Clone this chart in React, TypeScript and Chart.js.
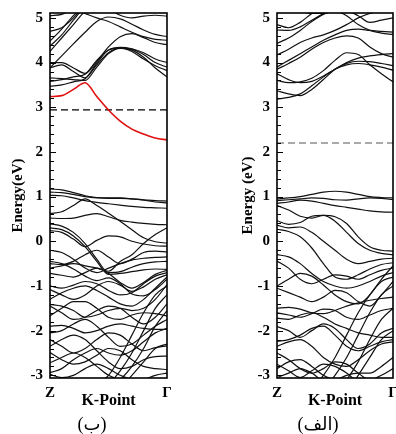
import React, { useEffect, useRef } from "react";
import { Chart, registerables } from "chart.js";
Chart.register(...registerables);

// k-path sample positions from Z (0) to Γ (1)
const K = [0, 0.1, 0.2, 0.3, 0.4, 0.5, 0.6, 0.7, 0.8, 0.9, 1.0];
const yTickValues = [-3, -2, -1, 0, 1, 2, 3, 4, 5];
const xTickLabels = ["Z", "Γ"];
const xTitle = "K-Point";
const yTitleLeft = "Energy(eV)";
const yTitleRight = "Energy (eV)";
const captionLeft = "(ب)";
const captionRight = "(الف)";
const fermiLeft = 2.94;
const fermiRight = 2.2;

// left panel (ب): red impurity band
const leftRedBand = [3.24, 3.26, 3.4, 3.55, 3.24, 2.94, 2.69, 2.51, 2.4, 2.31, 2.27];

// left panel conduction bands
const leftConduction = [
  [3.88, 3.95, 3.8, 3.66, 3.95, 4.22, 4.33, 4.28, 4.12, 3.88, 3.68],
  [3.58, 3.62, 3.68, 3.74, 4.05, 4.28, 4.34, 4.31, 4.22, 4.08, 4.0],
  [3.47, 3.5, 3.57, 3.64, 3.98, 4.28, 4.33, 4.25, 4.08, 3.93, 3.82],
  [3.66, 3.64, 3.62, 3.6, 3.9, 4.2, 4.32, 4.3, 4.18, 4.0, 3.9],
  [4.0, 4.0, 3.88, 3.76, 4.02, 4.35, 4.58, 4.65, 4.56, 4.45, 4.4],
  [3.88, 4.15, 4.42, 4.68, 4.92, 5.02, 4.98, 4.86, 4.73, 4.63, 4.58],
  [4.25, 4.55, 4.85, 5.15, 5.3, 5.2, 5.06, 5.0, 5.04, 5.06, 5.04],
  [4.48, 4.75, 5.05, 5.3, 5.4, 5.4, 5.35, 5.3, 5.25, 5.2, 5.2],
  [4.7, 4.78, 5.0, 5.3, 5.5, 5.5, 5.5, 5.5, 5.5, 5.5, 5.5],
  [4.37, 4.62, 4.95, 5.25, 5.4, 5.5, 5.5, 5.5, 5.5, 5.5, 5.5],
  [5.4, 5.3, 5.2, 5.1, 5.0, 4.92, 4.8, 4.68, 4.58, 4.52, 4.5],
  [5.05, 5.08, 5.2, 5.3, 5.4, 5.5, 5.5, 5.5, 5.5, 5.5, 5.5],
];

// left panel valence bands
const leftValence = [
  [1.17, 1.15, 1.09, 1.02, 0.98, 0.97, 0.97, 0.95, 0.92, 0.88, 0.86],
  [1.1, 1.09, 1.05, 1.0, 0.97, 0.96, 0.96, 0.95, 0.93, 0.91, 0.9],
  [1.03, 1.02, 0.97, 0.91, 0.87, 0.84, 0.81, 0.78, 0.76, 0.75, 0.74],
  [0.62, 0.66, 0.8, 0.95, 0.8, 0.63, 0.45, 0.26, 0.08, -0.01, -0.04],
  [0.52, 0.51, 0.52, 0.58, 0.62, 0.55, 0.47, 0.43, 0.4, 0.38, 0.37],
  [0.39, 0.34, 0.2, -0.05, -0.4, -0.7, -0.68, -0.58, -0.5, -0.46, -0.45],
  [0.3, 0.26, 0.12, -0.12, -0.45, -0.74, -0.72, -0.68, -0.64, -0.62, -0.63],
  [0.24, 0.2, 0.05, -0.12, 0.02, 0.12, 0.1, 0.0, -0.06, -0.1, -0.11],
  [-0.6, -0.55, -0.5, -0.55, -0.6, -0.67, -0.45, -0.3, -0.05, 0.15, 0.3],
  [-0.5, -0.52, -0.45, -0.3, -0.2, -0.35, -0.5, -0.4, -0.25, -0.22, -0.24],
  [-0.2, -0.25, -0.4, -0.6, -0.7, -0.6, -0.5, -0.42, -0.38, -0.36, -0.35],
  [-0.45, -0.5, -0.62, -0.78, -0.88, -0.82, -0.95, -1.18, -1.22, -1.08, -0.85],
  [-0.72, -0.76, -0.8, -0.7, -0.6, -0.72, -0.92, -1.05, -0.92, -0.74, -0.65],
  [-1.0, -1.05, -0.98, -0.9, -0.95, -1.1, -1.2, -1.15, -0.95, -0.78, -0.7],
  [-1.08, -1.2, -1.3, -1.2, -1.0, -0.9, -0.98, -1.12, -1.02, -0.85, -0.75],
  [-1.3, -1.15, -1.05, -1.0, -1.1, -1.25, -1.4, -1.45, -1.3, -1.05, -0.8],
  [-1.41, -1.45, -1.55, -1.7, -1.65, -1.55, -1.5, -1.55, -1.5, -1.3, -0.97],
  [-1.45, -1.6, -1.75, -1.7, -1.55, -1.45, -1.5, -1.7, -1.85, -1.7, -1.4],
  [-1.67, -1.5, -1.35, -1.35, -1.5, -1.7, -1.75, -1.65, -1.6, -1.62, -1.67],
  [-1.9, -1.88, -1.95, -2.05, -2.0, -1.9, -1.85, -1.9, -1.95, -1.97, -1.97],
  [-2.05, -2.0, -1.85, -1.75, -1.9, -2.15, -2.35, -2.3, -2.1, -1.9, -1.75],
  [-2.2, -2.35, -2.5, -2.4, -2.2, -2.05, -2.1, -2.3, -2.45, -2.38, -2.34],
  [-2.35, -2.2, -2.1, -2.2, -2.45, -2.7, -2.85, -2.8, -2.65, -2.58, -2.57],
  [-2.49, -2.65, -2.75, -2.7, -2.55, -2.4, -2.45, -2.65, -2.8, -2.85, -2.87],
  [-2.72, -2.6, -2.5, -2.6, -2.8, -3.0, -3.1, -3.15, -3.1, -3.0, -2.95],
  [-2.94, -2.85, -2.65, -2.5, -2.4, -2.5, -2.55, -2.45, -2.25, -2.05, -1.95],
  [-2.98, -3.05, -3.0, -2.85, -2.75, -2.85, -3.0, -3.1, -3.2, -3.2, -3.2],
  [-3.5, -3.5, -3.5, -3.4, -3.2, -3.0, -2.6, -2.1, -1.6, -1.2, -1.0],
  [-3.6, -3.6, -3.6, -3.5, -3.4, -3.2, -2.9, -2.5, -2.0, -1.5, -1.2],
  [-3.8, -3.8, -3.7, -3.6, -3.5, -3.3, -3.1, -2.8, -2.4, -1.9, -1.55],
  [-3.9, -3.9, -3.8, -3.8, -3.7, -3.5, -3.3, -3.0, -2.7, -2.4, -2.3],
];

// right panel (الف) conduction bands
const rightConduction = [
  [3.18, 3.22, 3.3, 3.48, 3.68, 3.85, 3.95, 3.98, 3.95, 3.9, 3.83],
  [3.37, 3.3, 3.26, 3.4, 3.62, 3.85, 3.98, 4.03, 4.02, 3.98, 3.93],
  [3.6, 3.55, 3.57, 3.65, 3.82, 4.05, 4.22, 4.18, 3.95, 3.75, 3.57],
  [3.75, 3.62, 3.55, 3.58, 3.7, 3.85, 4.0, 4.1, 4.15, 4.18, 4.2],
  [3.9, 4.05, 4.2, 4.35, 4.5, 4.62, 4.72, 4.75, 4.72, 4.7, 4.68],
  [3.85, 3.98, 4.12, 4.3, 4.45, 4.55, 4.6, 4.55, 4.35, 4.2, 4.12],
  [4.17, 4.3, 4.45, 4.55, 4.62, 4.72, 4.85, 5.0, 5.1, 5.15, 5.15],
  [4.43, 4.55, 4.72, 4.92, 5.08, 5.15, 5.05, 4.85, 4.72, 4.66, 4.63],
  [4.73, 4.72, 4.8, 4.95, 5.1, 5.25, 5.35, 5.4, 5.4, 5.4, 5.4],
  [4.85, 4.78, 4.9, 5.1, 5.25, 5.35, 5.4, 5.4, 5.4, 5.4, 5.4],
  [5.2, 5.2, 5.15, 5.1, 5.1, 5.15, 5.15, 5.05, 4.9, 4.95, 5.0],
];

// right panel valence bands
const rightValence = [
  [0.95, 0.97, 1.0, 1.05, 1.1, 1.12, 1.1, 1.05, 1.0, 0.98, 0.97],
  [0.91, 0.93, 0.95, 0.97, 0.96, 0.93, 0.92, 0.95, 0.97, 0.96, 0.93],
  [0.85, 0.88, 0.92, 0.9, 0.85, 0.8, 0.76, 0.72, 0.68, 0.66, 0.65],
  [0.8, 0.7, 0.56, 0.52, 0.58, 0.55, 0.4, 0.1, -0.12, -0.2, -0.22],
  [0.46, 0.38, 0.42, 0.56, 0.58, 0.45, 0.2, -0.05, -0.2, -0.27, -0.3],
  [0.36, 0.3, 0.32, 0.2, 0.0, -0.2, -0.4, -0.5, -0.45, -0.4, -0.38],
  [0.27, 0.22, 0.1, -0.15, -0.5, -0.8, -0.85, -0.75, -0.62, -0.52, -0.48],
  [-0.44, -0.6, -0.85, -0.95, -0.85, -0.75, -0.78, -0.85, -0.75, -0.65, -0.6],
  [-1.0, -0.85, -0.72, -0.78, -0.98, -1.2, -1.35, -1.4, -1.2, -0.85, -0.55],
  [-0.3, -0.35, -0.5, -0.72, -0.9, -1.0, -1.05, -1.0, -0.9, -0.78, -0.7],
  [-1.05, -1.15, -1.25, -1.35, -1.25, -1.1, -1.15, -1.35, -1.45, -1.2, -0.9],
  [-1.5, -1.48, -1.52, -1.6, -1.62, -1.55, -1.45, -1.38, -1.32, -1.28, -1.25],
  [-1.6, -1.65, -1.7, -1.62, -1.52, -1.55, -1.7, -1.75, -1.65, -1.55, -1.5],
  [-1.72, -1.75, -1.65, -1.6, -1.7, -1.85, -1.95, -2.05, -2.1, -2.15, -2.15],
  [-1.91, -2.0, -2.15, -2.0, -1.85, -1.95, -2.2, -2.4, -2.3, -2.05, -1.95],
  [-2.24, -2.2, -2.1, -1.95, -1.9, -2.1, -2.35, -2.45, -2.35, -2.25, -2.2],
  [-2.35, -2.25, -2.2, -2.35, -2.6, -2.75, -2.8, -2.65, -2.45, -2.3, -2.25],
  [-2.5, -2.65, -2.85, -2.95, -2.85, -2.7, -2.75, -2.95, -3.1, -3.0, -2.85],
  [-2.75, -2.9, -3.05, -2.9, -2.75, -2.8, -2.95, -3.15, -3.2, -3.2, -3.2],
  [-2.85, -2.7, -2.65, -2.8, -3.0, -3.1, -3.0, -2.95, -2.95, -2.8, -2.6],
  [-3.05, -2.95, -2.85, -2.95, -3.15, -3.3, -3.3, -3.3, -3.3, -3.3, -3.3],
  [-3.6, -3.6, -3.5, -3.3, -3.0, -2.6, -2.1, -1.6, -1.2, -0.9, -0.8],
  [-3.7, -3.7, -3.6, -3.5, -3.3, -3.0, -2.6, -2.1, -1.6, -1.2, -1.0],
  [-3.9, -3.9, -3.8, -3.7, -3.6, -3.4, -3.1, -2.7, -2.2, -1.75, -1.5],
  [-4.0, -4.0, -4.0, -3.9, -3.8, -3.6, -3.4, -3.0, -2.6, -2.2, -2.0],
];

const FONT = "'Liberation Serif', 'Times New Roman', serif";
const Y_MIN = -3.06;
const Y_MAX = 5.11;

const framePlugin = {
  id: "frame",
  afterDatasetsDraw(chart: any) {
    const { ctx, chartArea } = chart;
    const y = chart.scales.y;
    ctx.save();
    ctx.strokeStyle = "#000";
    ctx.lineWidth = 1;
    for (let i = -15; i <= 25; i++) {
      const v = i / 5;
      if (v < Y_MIN || v > Y_MAX) continue;
      const py = Math.round(y.getPixelForValue(v)) + 0.5;
      const len = i % 5 === 0 ? 6 : 4;
      ctx.beginPath();
      ctx.moveTo(chartArea.left, py);
      ctx.lineTo(chartArea.left + len, py);
      ctx.stroke();
    }
    ctx.lineWidth = 1.6;
    ctx.strokeRect(chartArea.left, chartArea.top, chartArea.right - chartArea.left, chartArea.bottom - chartArea.top);
    ctx.restore();
  },
};

type PanelProps = {
  left: number;
  conduction: number[][];
  valence: number[][];
  red?: number[];
  fermi: number;
  dashColor: string;
  yTitle: string;
  yAxisWidth: number;
  yTitlePad: number;
  padRight: number;
};

function Panel(p: PanelProps) {
  const ref = useRef<HTMLCanvasElement | null>(null);
  useEffect(() => {
    if (!ref.current) return;
    const toPts = (b: number[]) => b.map((e, i) => ({ x: K[i], y: e }));
    const datasets: any[] = [];
    if (p.red) {
      datasets.push({ data: toPts(p.red), borderColor: "#e01010", borderWidth: 1.6 });
    }
    datasets.push({
      data: [
        { x: 0, y: p.fermi },
        { x: 1, y: p.fermi },
      ],
      borderColor: p.dashColor,
      borderWidth: 1.2,
      borderDash: [7, 4],
      cubicInterpolationMode: "default",
      tension: 0,
    });
    [...p.conduction, ...p.valence].forEach((b) =>
      datasets.push({ data: toPts(b), borderColor: "#111", borderWidth: 1.2 })
    );
    const tickFont = { family: FONT, size: 15, weight: "bold" as const };
    const chart = new Chart(ref.current, {
      type: "line",
      data: { datasets },
      options: {
        animation: false,
        responsive: false,
        events: [],
        layout: { padding: { top: 13, right: p.padRight, left: 0, bottom: 0 } },
        plugins: { legend: { display: false }, tooltip: { enabled: false }, title: { display: false } },
        elements: {
          point: { radius: 0 },
          line: { cubicInterpolationMode: "monotone", fill: false },
        },
        scales: {
          x: {
            type: "linear",
            min: 0,
            max: 1,
            afterBuildTicks: (s: any) => {
              s.ticks = [{ value: 0 }, { value: 1 }];
            },
            afterFit: (s: any) => {
              s.height = 56;
              s.paddingLeft = 0;
              s.paddingRight = 0;
            },
            ticks: {
              callback: (v: any) => (v === 0 ? xTickLabels[0] : xTickLabels[1]),
              font: tickFont,
              color: "#000",
              maxRotation: 0,
              autoSkip: false,
              padding: 6,
            },
            grid: { display: false, drawTicks: false },
            border: { display: false },
            title: {
              display: true,
              text: xTitle,
              color: "#000",
              font: { family: FONT, size: 16, weight: "bold" },
              padding: { top: 0, bottom: 24 },
            },
          },
          y: {
            type: "linear",
            min: Y_MIN,
            max: Y_MAX,
            afterBuildTicks: (s: any) => {
              s.ticks = yTickValues.map((v) => ({ value: v }));
            },
            afterFit: (s: any) => {
              s.width = p.yAxisWidth;
              s.paddingTop = 0;
              s.paddingBottom = 0;
            },
            ticks: { font: tickFont, color: "#000", padding: 7 },
            grid: { display: false, drawTicks: false },
            border: { display: false },
            title: {
              display: true,
              text: p.yTitle,
              color: "#000",
              font: { family: FONT, size: 15, weight: "bold" },
              padding: { top: p.yTitlePad, bottom: 0 },
            },
          },
        },
      } as any,
      plugins: [framePlugin],
    });
    return () => chart.destroy();
  }, []);
  return (
    <canvas
      ref={ref}
      width={198}
      height={434}
      style={{ position: "absolute", left: p.left, top: 0, width: 198, height: 434 }}
    />
  );
}

const captionStyle = (cx: number): React.CSSProperties => ({
  position: "absolute",
  left: cx - 40,
  width: 80,
  top: 414,
  textAlign: "center",
  fontFamily: "'Liberation Serif', 'DejaVu Sans', serif",
  fontSize: 18,
  lineHeight: "20px",
  color: "#000",
  whiteSpace: "nowrap",
});

export default function App() {
  return (
    <div style={{ position: "absolute", left: 0, top: 0, width: 396, height: 434, background: "#fff" }}>
      <Panel
        left={0}
        conduction={leftConduction}
        valence={leftValence}
        red={leftRedBand}
        fermi={fermiLeft}
        dashColor="#000"
        yTitle={yTitleLeft}
        yAxisWidth={50}
        yTitlePad={9.5}
        padRight={31}
      />
      <Panel
        left={198}
        conduction={rightConduction}
        valence={rightValence}
        fermi={fermiRight}
        dashColor="#555"
        yTitle={yTitleRight}
        yAxisWidth={79}
        yTitlePad={41}
        padRight={3}
      />
      <div style={captionStyle(92)}>{captionLeft}</div>
      <div style={captionStyle(318)}>{captionRight}</div>
    </div>
  );
}
